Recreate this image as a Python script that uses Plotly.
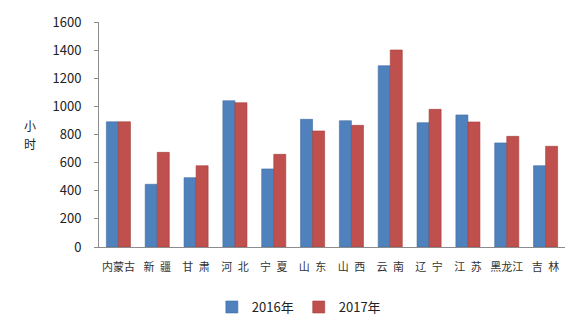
import plotly.graph_objects as go

categories = ["内蒙古", "新\u2002疆", "甘\u2002肃", "河\u2002北", "宁\u2002夏", "山\u2002东", "山\u2002西",
              "云\u2002南", "辽\u2002宁", "江\u2002苏", "黑龙江", "吉\u2002林"]
hours_2016 = [890, 446, 493, 1040, 555, 908, 898, 1289, 884, 939, 740, 578]
hours_2017 = [890, 673, 578, 1026, 659, 825, 865, 1401, 979, 889, 787, 716]
y_ticks = [0, 200, 400, 600, 800, 1000, 1200, 1400, 1600]

fig = go.Figure()
fig.add_trace(go.Bar(name="2016年", x=categories, y=hours_2016,
                     marker=dict(color="#4F81BD", line=dict(color="#3E6DA3", width=0.6))))
fig.add_trace(go.Bar(name="2017年", x=categories, y=hours_2017,
                     marker=dict(color="#C0504D", line=dict(color="#A33F3C", width=0.6))))

font_family = "Noto Sans CJK SC, Noto Sans, sans-serif"
fig.update_layout(
    width=586, height=327,
    margin=dict(l=99, r=21, t=22, b=80, autoexpand=False),
    paper_bgcolor="white", plot_bgcolor="white",
    barmode="group", bargap=0.38, bargroupgap=0,
    font=dict(family=font_family, color="#222222"),
    showlegend=True,
    legend=dict(orientation="h", x=0.51, xanchor="center", xref="container",
                y=0.061, yanchor="middle", yref="container",
                font=dict(size=13, color="#222222"), itemwidth=30,
                traceorder="normal"),
    xaxis=dict(showline=True, linecolor="#8c8c8c", linewidth=1, ticks="",
               tickfont=dict(size=11, color="#333333"), showgrid=False, automargin=False,
               ticklabelstandoff=10),
    yaxis=dict(range=[0, 1600], tickvals=y_ticks, showline=True, linecolor="#8c8c8c",
               linewidth=1, ticks="outside", ticklen=4, tickcolor="#8c8c8c",
               showgrid=False, zeroline=False, automargin=False,
               ticklabelstandoff=10,
               tickfont=dict(size=13, color="#222222")),
)
for ch, yv in (("小", 0.54), ("时", 0.46)):
    fig.add_annotation(text=ch, xref="paper", yref="paper", x=-0.148, y=yv,
                       showarrow=False, font=dict(size=12, color="#222222"),
                       xanchor="center", yanchor="middle", borderpad=0)
fig.write_html("out.html")
